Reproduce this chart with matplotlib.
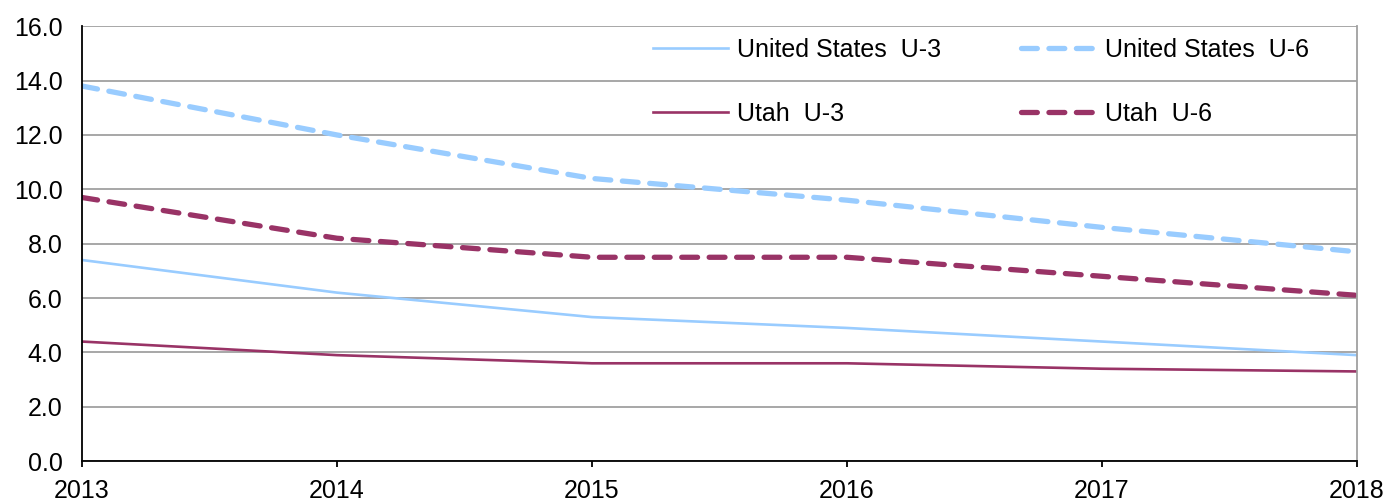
import matplotlib
matplotlib.use('Agg')
import matplotlib.pyplot as plt
import numpy as np

plt.rcParams['font.family'] = ['Liberation Sans', 'DejaVu Sans']

years = [2013, 2014, 2015, 2016, 2017, 2018]
us_u3 = [7.4, 6.2, 5.3, 4.9, 4.4, 3.9]
us_u6 = [13.8, 12.0, 10.4, 9.6, 8.6, 7.7]
utah_u3 = [4.4, 3.9, 3.6, 3.6, 3.4, 3.3]
utah_u6 = [9.7, 8.2, 7.5, 7.5, 6.8, 6.1]

azul = '#99CCFF'
vinho = '#993366'
tracejado = (0, (3.0, 2.2))

fig = plt.figure(figsize=(13.88, 5.04), dpi=100)
ax = fig.add_axes([0.059, 0.085, 0.9187, 0.863])

l1, = ax.plot(years, us_u3, color=azul, lw=1.9, label='United States  U-3')
l2, = ax.plot(years, us_u6, color=azul, lw=3.8, ls=tracejado, dash_capstyle='round',
              label='United States  U-6')
l3, = ax.plot(years, utah_u3, color=vinho, lw=1.9, label='Utah  U-3')
l4, = ax.plot(years, utah_u6, color=vinho, lw=3.8, ls=tracejado, dash_capstyle='round',
              label='Utah  U-6')

ax.set_xlim(2013, 2018)
ax.set_ylim(0, 16)
ax.set_yticks(np.arange(0, 17, 2))
ax.set_yticklabels(['%.1f' % v for v in np.arange(0, 17, 2)])
ax.set_xticks(years)
ax.grid(axis='y', color='#A0A0A0', lw=1.3)
ax.set_axisbelow(True)

ax.spines['top'].set_visible(False)
ax.spines['right'].set_color('#A0A0A0')
ax.spines['right'].set_linewidth(1.3)
ax.spines['left'].set_linewidth(1.3)
ax.spines['bottom'].set_linewidth(1.3)
ax.tick_params(axis='y', length=0, labelsize=18, pad=14)
ax.tick_params(axis='x', length=4, width=1.3, direction='out', labelsize=18, pad=9)

# legenda sem moldura, em duas colunas
ax.legend(handles=[l1, l3, l2, l4], ncol=2, frameon=False, fontsize=18,
          loc='upper left', bbox_to_anchor=(0.4618, 0.949), bbox_transform=fig.transFigure,
          borderpad=0, handlelength=3.0, handletextpad=0.36, labelspacing=1.6,
          columnspacing=3.17)

fig.savefig('out.png', dpi=100)
